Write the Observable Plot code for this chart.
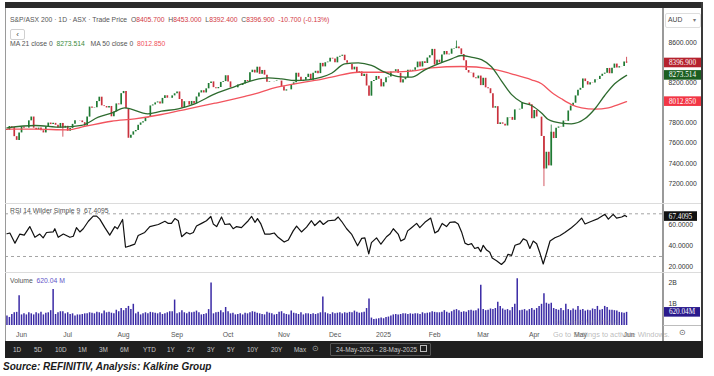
<!DOCTYPE html>
<html><head><meta charset="utf-8">
<script src="https://cdn.jsdelivr.net/npm/d3@7"></script>
<script src="https://cdn.jsdelivr.net/npm/@observablehq/plot@0.6"></script>
<style>
body{margin:0;background:#fff;font-family:"Liberation Sans",Arial,sans-serif;}
#root{position:relative;width:714px;height:376px;overflow:hidden;background:#fff;}
.abs{position:absolute;white-space:nowrap;line-height:1;}
.hdr{font-size:6.8px;color:#555;}
.red{color:#d23a45;}
.grn{color:#3d8b40;}
.pnk{color:#f0505a;}
.tb{position:absolute;top:346px;font-size:6.4px;color:#c8c8c8;}
svg{position:absolute;left:0;overflow:visible;}
</style></head><body><div id="root"></div>
<script>
// ---------- DATA ----------
// trading-day closes, 24-May-2024 .. 28-May-2025 (index 0..255)
const closes = [
 // May 2024
 7727,7766,7758,7665,7628,7702,
 // Jun
 7761,7749,7750,7822,7860,7749,7733,7750,7724,7702,7763,7800,7785,7797,7778,7750,7796,7750,7768,
 // Jul
 7719,7747,7787,7824,7824,7821,7804,7769,7859,7959,7948,7952,8013,8057,7971,7964,7950,7965,7862,7910,7990,7981,8092,
 // Aug
 8114,7943,7649,7680,7713,7726,7778,7801,7814,7851,7856,7970,7980,8000,8010,7990,8045,8071,8047,8046,8070,8091,
 // Sep
 8109,8034,7950,8012,8013,7978,8015,7990,8059,8099,8121,8099,8140,8193,8209,8152,8141,8153,8204,8212,8270,
 // Oct
 8209,8151,8150,8150,8178,8173,8187,8223,8214,8301,8325,8297,8355,8284,8323,8276,8205,8211,8211,8213,8218,8217,8160,
 // Nov
 8118,8130,8130,8180,8200,8295,8255,8213,8224,8253,8285,8225,8294,8314,8291,8393,8358,8399,8406,8444,8436,
 // Dec
 8398,8454,8463,8474,8420,8393,8382,8328,8355,8296,8309,8263,8286,8168,8067,8212,8223,8263,8235,8159,
 // Jan 2025
 8201,8250,8257,8306,8309,8330,8294,8199,8230,8250,8325,8314,8324,8349,8406,8357,8409,8392,8446,8469,8532,
 // Feb
 8376,8425,8400,8476,8511,8478,8484,8535,8540,8555,8537,8481,8419,8322,8297,8296,8250,8240,8267,8172,
 // Mar
 8245,8150,8141,8092,7948,7963,7786,7802,7789,7771,7853,7856,7827,7931,7931,7937,7999,7999,7999,7982,7843,
 // Apr
 7925,7860,7859,7667,7344,7510,7375,7709,7646,7749,7761,7758,7820,7817,7920,7969,7997,8070,8126,
 // May
 8145,8238,8212,8178,8200,8197,8231,8233,8264,8285,8296,8343,8290,8344,8386,8347,8360,8361,8407,8396.9
];
const firstOpen = 7735;
const lastOHLC = [8405.7, 8453.0, 8392.4, 8396.9];   // O H L C of the last bar
const lastChange = ["-10.700", "(-0.13%)"];
// notable wicks
const wickIdx = [23, 185, 221, 224, 255];
const wickLo  = [7660, null, 7169, null, 8392.4];
const wickHi  = [null, 8615, null, 7780, 8453];

// volume, billions of shares
const volumes = [
 0.45,0.38,0.52,0.6,0.62,1.40,
 0.5,0.55,0.5,0.6,0.55,0.5,0.6,0.55,0.62,0.5,0.58,0.6,0.7,1.7,0.52,0.6,0.65,0.65,0.55,
 0.6,0.52,0.55,0.45,0.5,0.5,0.52,0.55,0.55,0.6,0.58,0.55,0.62,0.6,0.55,0.68,0.6,0.62,0.58,0.55,0.72,0.65,0.8,
 0.7,0.8,0.9,0.75,1.0,0.55,0.62,0.5,0.55,0.6,0.55,0.62,0.6,0.58,0.55,0.6,0.52,0.55,0.6,0.65,0.65,1.2,
 0.55,0.6,0.7,0.6,0.55,0.62,0.6,0.62,0.68,0.6,0.5,0.52,0.55,0.75,2.0,0.55,0.6,0.62,0.7,0.6,0.85,
 0.65,0.55,0.58,0.5,0.52,0.55,0.5,0.58,0.55,0.6,0.65,0.62,0.58,0.55,0.52,0.5,0.62,0.58,0.55,0.5,0.52,0.62,0.65,
 0.55,0.52,0.5,0.68,0.58,0.55,0.52,0.6,0.5,0.55,0.55,0.52,0.55,0.52,0.55,0.6,1.35,0.6,0.55,0.52,0.6,
 0.55,0.58,0.6,0.55,0.6,0.58,0.62,0.6,0.68,0.62,0.58,0.6,0.62,0.8,1.25,0.35,0.28,0.3,0.32,0.35,
 0.32,0.38,0.4,0.45,0.5,0.52,0.5,0.52,0.55,0.55,0.52,0.55,0.53,0.55,0.55,0.52,0.6,0.55,0.58,0.6,0.65,
 0.62,0.6,0.6,0.62,0.7,0.62,0.58,0.65,0.72,0.75,0.7,0.62,0.65,0.62,0.7,0.72,0.68,0.7,0.78,1.9,
 0.75,0.7,0.72,0.78,0.75,0.8,1.1,0.9,0.78,0.72,0.75,0.7,0.85,1.0,2.2,0.7,0.72,0.75,0.68,0.75,0.8,
 0.72,0.8,0.9,1.0,1.5,1.05,1.0,1.05,0.8,0.75,0.72,0.8,0.7,1.0,0.75,0.7,0.78,0.72,0.9,
 0.72,0.75,0.68,0.72,0.7,0.78,0.75,0.9,0.72,0.75,0.9,0.85,0.72,0.72,0.7,0.68,0.62,0.6,0.58,0.62004
];

// moving averages (bar index, value)
const ma21Idx = [0,11.5,22.5,30.7,37.6,43,48.5,58,63.6,70.5,77.3,85.6,93.8,102,107.5,113,118.5,124,129.5,133.6,139,144.6,150,155.5,161,166.5,172,177.5,183,187,191,195.3,199.4,203.5,207.6,211.8,215.9,220,222.8,228.2,232.3,237.8,241.9,246,250.1,254.2,255];
const ma21Val = [7753,7776,7759,7776,7858,7898,7951,7892,7918,7942,7991,8090,8163,8230,8249,8239,8223,8230,8256,8295,8388,8398,8372,8305,8262,8256,8329,8388,8438,8471,8455,8430,8360,8220,8085,8007,7974,7900,7835,7799,7792,7842,7940,8074,8190,8262,8273.514];
const ma50Idx = [0,11.5,25,32,43,52.6,63.6,74.6,85.6,98,102,110,118.5,126.7,133.6,144.6,155.5,166.5,174.7,187,199.4,207.6,215.9,220,224.1,228.2,232.3,236.5,242,247.5,251.6,255];
const ma50Val = [7739,7739,7733,7766,7818,7842,7885,7942,7997,8065,8090,8150,8190,8223,8256,8305,8305,8315,8349,8362,8339,8289,8230,8190,8107,8041,7984,7951,7938,7951,7984,8012.85];

// RSI 14 (bar index, value)
const rsiIdx = [0,1.2,3.3,5.3,7.1,9.4,11.5,13.5,14.9,16.3,19,19.7,21.1,23.2,25.9,27.3,28.6,30,31.4,33.5,35.5,36.9,38.2,40.3,42.3,44.4,45.5,47.6,48.8,50.6,52.6,54,56.7,58.8,62.3,65,66.4,67.7,69.1,70.5,71.9,73.9,75.3,76.7,78,80.1,82.1,83.9,84.9,86.3,88.3,89.7,91.7,93.1,94.5,96.5,99.3,100.7,102.1,103.1,104.5,106.1,108.2,110,111.6,114.1,115.8,117.8,119.2,121.2,123.3,125.3,126.7,128.8,130.2,132.2,134.9,136.3,137.7,139.8,141.8,144.3,146,147.3,148.9,150,152.1,153.9,156.2,157.6,159,161,162.1,163.7,164.9,166.5,168.6,169.9,172,174.4,176.1,177.5,179.1,180.9,182.3,184.3,185.7,187.1,188.5,189.8,191.2,192.5,193.9,195,196,197.4,198.7,199.7,201.5,203.5,204.9,206.2,207.7,209.1,211.1,212.5,213.9,215.2,216.6,218,219.3,220.7,222.1,223.5,225.5,227.5,229.6,232.3,234.4,236.5,237.9,240.6,243.3,246.1,247.5,249.5,250.9,253,254.3,255];
const rsiVal = [51.3,52,42.5,51,50,58,48,51,47.5,52.5,53,56,48,51,48,49,57,53,56,63,67.8,67.8,65,57,50,58,56,64.7,38.7,40,41.6,49.6,52.5,58,60,63,61,61,65.5,63.5,48.5,52.5,51,52.5,58.5,61,63.5,67.5,60.5,58,67,60,60.5,56,58,57,63.5,67.5,62,65.5,60.5,51,51,52,48,43.5,45.5,54,58.5,53,57.5,63.5,59,63.5,60,63.5,64,67,63,56,51,40,47,47.5,32.5,43,47.5,41.5,48.5,51,56,51,44.5,46.5,54,57,61,57,62,66,52,54,61,58,62,62.5,60.5,53,42.5,41,42,37.5,38.5,34.5,40.5,36,34,28.5,26,22.5,25.5,32,31,40.5,42,46.5,45,37.5,44.5,42,33.5,23,33.5,44.5,47.5,49.5,52.5,57,61,66,60.5,63,65.5,69.5,65,69.5,66,67,68.5,67.4095];

// axes
const monthIdx    = [6,25,48,70,91,114,135,155,176,196,217,236,256];
const monthLabels = ["Jun","Jul","Aug","Sep","Oct","Nov","Dec","2025","Feb","Mar","Apr","May","Jun"];
const priceTicks  = [7200,7400,7600,7800,8000,8200,8400,8600];
const rsiTicks    = [20,40,60];
const rsiBands    = [30,70];
const volTicks    = [1,2];
const volTickText = ["1B","2B"];
const rangeButtons = ["1D","5D","10D","1M","3M","6M","YTD","1Y","2Y","3Y","5Y","10Y","20Y","Max"];
const dateRange = "24-May-2024 - 28-May-2025";

// ---------- BUILD ----------
const root = document.getElementById("root");
const N = closes.length;
const candles = closes.map((c, i) => {
  const o = i === 0 ? firstOpen : (i === N - 1 ? lastOHLC[0] : closes[i - 1]);
  return {i, o, c, up: c >= o};
});
const wicks = wickIdx.map((i, k) => {
  const d = candles[i];
  return {i, lo: wickLo[k] ?? Math.min(d.o, d.c), hi: wickHi[k] ?? Math.max(d.o, d.c), up: d.up};
});
const ma21 = ma21Idx.map((i, k) => ({i, v: ma21Val[k]}));
const ma50 = ma50Idx.map((i, k) => ({i, v: ma50Val[k]}));
const rsi = rsiIdx.map((i, k) => ({i, v: rsiVal[k]}));
const vols = volumes.map((v, i) => ({i, v}));

const GREEN = "#1f7a33", RED = "#c9313d";
const X = {domain: [-0.6, 270.2], axis: null};
const common = {width: 714, marginLeft: 5, marginRight: 51, marginTop: 0, marginBottom: 0,
  style: {fontFamily: "Liberation Sans, Arial, sans-serif", fontSize: "6.8px", color: "#333", background: "transparent"}};

function boxes(items) {
  return (index, scales) => {
    const g = d3.create("svg:g");
    for (const it of items) {
      const y = scales.y(it.v);
      g.append("rect").attr("x", 664).attr("y", y - 4.8).attr("width", it.w).attr("height", 9.6).attr("fill", it.fill);
      g.append("text").attr("x", 664 + it.w / 2).attr("y", y).attr("dy", "0.35em")
        .attr("text-anchor", "middle").attr("fill", "#fff").attr("font-size", 7.2)
        .attr("font-family", "Liberation Serif, serif").text(it.text);
    }
    return g.node();
  };
}

function place(svg, top) { svg.style.top = top + "px"; root.appendChild(svg); }

// price panel
const price = Plot.plot({...common, height: 195, x: X,
  y: {domain: [7001, 8938], axis: null},
  marks: [
    Plot.axisY(priceTicks, {anchor: "right", tickSize: 0, tickPadding: 5, label: null, tickFormat: d => d.toFixed(3), fill: "#333"}),
    Plot.ruleX(wicks, {x: "i", y1: "lo", y2: "hi", stroke: d => d.up ? GREEN : RED, strokeWidth: 0.8}),
    Plot.ruleX(candles.filter(d => d.up), {x: "i", y1: "o", y2: "c", stroke: GREEN, strokeWidth: 1.7}),
    Plot.ruleX(candles.filter(d => !d.up), {x: "i", y1: "o", y2: "c", stroke: RED, strokeWidth: 1.7}),
    Plot.line(ma50, {x: "i", y: "v", stroke: "#f2545e", strokeWidth: 1.3, curve: "monotone-x"}),
    Plot.line(ma21, {x: "i", y: "v", stroke: "#2e6b2f", strokeWidth: 1.3, curve: "monotone-x"}),
    boxes([
      {v: lastOHLC[3], text: lastOHLC[3].toFixed(3), fill: "#b5222e", w: 37},
      {v: ma21Val[ma21Val.length - 1], text: ma21Val[ma21Val.length - 1].toFixed(3), fill: "#1b5e20", w: 37},
      {v: ma50Val[ma50Val.length - 1], text: ma50Val[ma50Val.length - 1].toFixed(3), fill: "#f23645", w: 37}
    ])
  ]});
place(price, 8);

// RSI panel
const rsiPlot = Plot.plot({...common, height: 69, x: X,
  y: {domain: [15.0, 79.65], axis: null},
  marks: [
    Plot.axisY(rsiTicks, {anchor: "right", tickSize: 0, tickPadding: 5, label: null, tickFormat: d => d.toFixed(4), fill: "#333"}),
    Plot.ruleY(rsiBands, {stroke: "#9a9a9a", strokeDasharray: "3,3", strokeWidth: 0.9}),
    Plot.line(rsi, {x: "i", y: "v", stroke: "#111", strokeWidth: 1.2}),
    boxes([{v: rsiVal[rsiVal.length - 1], text: rsiVal[rsiVal.length - 1].toFixed(4), fill: "#111", w: 33}])
  ]});
place(rsiPlot, 203);

// volume panel
const volPlot = Plot.plot({...common, height: 53, x: X,
  y: {domain: [0, 2.5], axis: null},
  marks: [
    Plot.axisY(volTicks, {anchor: "right", tickSize: 0, tickPadding: 5, label: null, tickFormat: (d, k) => volTickText[volTicks.indexOf(d)], fill: "#333"}),
    Plot.ruleX(vols, {x: "i", y1: 0, y2: "v", stroke: "#3a2aa5", strokeWidth: 1.5}),
    boxes([{v: volumes[N - 1], text: (volumes[N - 1] * 1000).toFixed(2) + "M", fill: "#2a1a8c", w: 36}])
  ]});
place(volPlot, 272);

// x axis row
const months = monthIdx.map((i, k) => ({i, t: monthLabels[k]}));
const xAxis = Plot.plot({...common, height: 16, x: X, y: {axis: null},
  marks: [
    Plot.text(months, {x: "i", text: "t", frameAnchor: "middle", fill: "#555", fontSize: 6.8,
      fontWeight: d => d.t === "2025" ? "bold" : "normal"})
  ]});
place(xAxis, 326);

// ---------- CHROME ----------
function div(css, html, cls) {
  const d = document.createElement("div");
  d.className = "abs " + (cls || "");
  Object.assign(d.style, css);
  if (html != null) d.innerHTML = html;
  root.appendChild(d);
  return d;
}
// frame lines
div({left: "5px", top: "2px", width: "698px", height: "6px", background: "#2b2b2b"});
div({left: "5px", top: "8px", width: "1px", height: "334px", background: "#9a9a9a"});
div({left: "662px", top: "8px", width: "1.5px", height: "334px", background: "#9a9a9a"});
div({left: "701px", top: "2px", width: "2px", height: "340px", background: "#3a3a3a"});
div({left: "5px", top: "203px", width: "696px", height: "1px", background: "#dcdcdc"});
div({left: "5px", top: "272px", width: "696px", height: "1px", background: "#dcdcdc"});
div({left: "663px", top: "325px", width: "38px", height: "1px", background: "#bdbdbd"});

// header
const [O, H, L, C] = lastOHLC;
div({left: "10px", top: "17px"},
  `S&amp;P/ASX 200 · 1D · ASX · Trade Price &nbsp;O<span class="red">${O.toFixed(3)}</span> &nbsp;H<span class="red">${H.toFixed(3)}</span> &nbsp;L<span class="red">${L.toFixed(3)}</span> &nbsp;C<span class="red">${C.toFixed(3)}</span> &nbsp;<span class="red">${lastChange[0]} ${lastChange[1]}</span>`, "hdr");
div({left: "10px", top: "29px", width: "13px", height: "9px", border: "1px solid #d0d0d0", borderRadius: "2px", fontSize: "8px", color: "#444", textAlign: "center", lineHeight: "9px"}, "‹");
div({left: "10px", top: "41px"},
  `MA 21 close 0 &nbsp;<span class="grn">${ma21Val[ma21Val.length-1].toFixed(3)}</span> &nbsp; MA 50 close 0 &nbsp;<span class="pnk">${ma50Val[ma50Val.length-1].toFixed(3)}</span>`, "hdr");
// AUD box
div({left: "665px", top: "13px", width: "34px", height: "13px", border: "1px solid #dedede", borderRadius: "2px"});
div({left: "668px", top: "17px", fontSize: "6.8px", color: "#444"}, "AUD");
div({left: "693px", top: "17px", fontSize: "6px", color: "#777"}, "▾");

// panel legends
div({left: "10px", top: "208px"}, `RSI 14 Wilder Simple 9 &nbsp;${rsiVal[rsiVal.length-1].toFixed(4)}`, "hdr");
div({left: "10px", top: "278px"}, `Volume &nbsp;<span style="color:#6253c8">${(volumes[N-1]*1000).toFixed(2)} M</span>`, "hdr");

// windows watermark
div({left: "553px", top: "318px", fontSize: "8.5px", color: "rgba(150,150,150,0.35)"}, "Activate Windows");
div({left: "553px", top: "331px", fontSize: "7.4px", color: "rgba(140,140,140,0.6)"}, "Go to Settings to activate Windows.");
div({left: "679px", top: "329px", fontSize: "8px", color: "#555"}, "⊙");

// toolbar
div({left: "5px", top: "341px", width: "698px", height: "17px", background: "#1f1f1f"});
const btnX = [13,34,55,78,99,120,143,167,187,207,227,247,271,294];
rangeButtons.forEach((t, k) => {
  const d = div({left: btnX[k] + "px"}, t);
  d.className = "tb";
});
div({left: "312px", top: "345px", fontSize: "7.5px", color: "#aaa"}, "⊙");
div({left: "330px", top: "343px", width: "99px", height: "11px", border: "1px solid #555", borderRadius: "1px"});
const dr = div({left: "336px"}, dateRange); dr.className = "tb";
div({left: "420px", top: "345px", width: "5px", height: "5px", border: "1px solid #bbb"});

// caption
div({left: "3px", top: "361px", fontFamily: "'Liberation Sans Narrow','Liberation Sans',Arial,sans-serif", fontSize: "11px",
  fontWeight: "bold", fontStyle: "italic", color: "#1a1a1a", transform: "scaleX(0.91)", transformOrigin: "0 0"},
  "Source: REFINITIV, Analysis: Kalkine Group");
</script></body></html>
